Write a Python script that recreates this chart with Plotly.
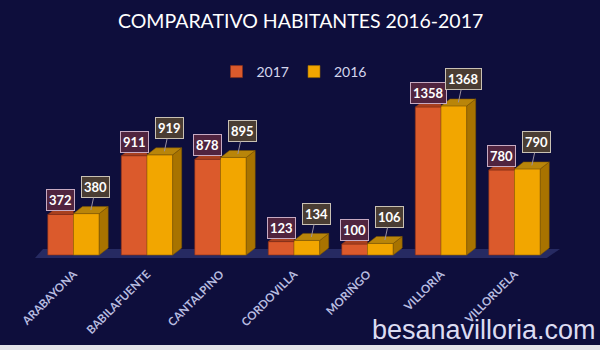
import plotly.graph_objects as go

categories = ["ARABAYONA", "BABILAFUENTE", "CANTALPINO", "CORDOVILLA", "MORIÑGO", "VILLORIA", "VILLORUELA"]
v2017 = [372, 911, 878, 123, 100, 1358, 780]
v2016 = [380, 919, 895, 134, 106, 1368, 790]

BG = "#0e0e3c"
C17 = "#db5a2c"
C16 = "#f2a600"
W = 0.35          # bar width (category units)
DX = 0.122        # 3D depth in x (category units)
DY = 64           # 3D depth in y (value units)

xs = list(range(len(categories)))

fig = go.Figure()
fig.add_trace(go.Bar(x=xs, y=v2017, name="2017", width=W, offset=-W,
                     marker=dict(color=C17, line=dict(color="#8a3018", width=0.6))))
fig.add_trace(go.Bar(x=xs, y=v2016, name="2016", width=W, offset=0,
                     marker=dict(color=C16, line=dict(color="#9a6a00", width=0.6))))

shapes = []
# floor
fl = "M -0.524,-27 L 6.438,-27 L 6.619,55 L -0.415,55 Z"
shapes.append(dict(type="path", path=fl, xref="x", yref="y", layer="below",
                   fillcolor="#262a62", line=dict(width=0)))

def P(pts):
    return "M " + " L ".join(f"{a},{b}" for a, b in pts) + " Z"

for i, (a, b) in enumerate(zip(v2017, v2016)):
    # 2017 top face (clipped at 2016 front face)
    x0, x1 = i - W, i
    shapes.append(dict(type="path", xref="x", yref="y", layer="above",
                       path=P([(x0, a), (x1, a), (x1, a + DY), (x0 + DX, a + DY)]),
                       fillcolor="#a8401f", line=dict(color="#7a2a14", width=0.5)))
    # 2016 side and top
    x0, x1 = i, i + W
    shapes.append(dict(type="path", xref="x", yref="y", layer="above",
                       path=P([(x1, 0), (x1 + DX, DY), (x1 + DX, b + DY), (x1, b)]),
                       fillcolor="#a87300", line=dict(color="#7a5400", width=0.5)))
    shapes.append(dict(type="path", xref="x", yref="y", layer="above",
                       path=P([(x0, b), (x1, b), (x1 + DX, b + DY), (x0 + DX, b + DY)]),
                       fillcolor="#b9850a", line=dict(color="#7a5400", width=0.5)))

# bottom light strip
shapes.append(dict(type="rect", xref="paper", yref="paper", x0=0, x1=1, y0=0, y1=5/350,
                   fillcolor="#e4e4ea", line=dict(width=0), layer="above"))

annotations = []
lab_font = dict(family="Lato", size=13, color="white", weight="bold")
for i, (a, b) in enumerate(zip(v2017, v2016)):
    annotations.append(dict(x=i - W / 2, y=a, xref="x", yref="y", text=str(a),
                            showarrow=False, yanchor="bottom", yshift=3,
                            font=lab_font, bgcolor="#50243f", bordercolor="#c7aac2",
                            borderwidth=1, borderpad=2))
    annotations.append(dict(x=i + W / 2 + DX / 2, y=b + DY / 2, xref="x", yref="y", text=str(b),
                            showarrow=True, arrowhead=0, arrowwidth=1, arrowcolor="#9a90a0",
                            ax=5, ay=-23, font=lab_font, bgcolor="#4a3d33",
                            bordercolor="#c9c1b4", borderwidth=1, borderpad=2))

annotations.append(dict(x=0.5, y=1 - 20 / 350, xref="paper", yref="paper",
                        text="COMPARATIVO HABITANTES 2016-2017", showarrow=False,
                        font=dict(family="Lato", size=19.5, color="white"),
                        xanchor="center", yanchor="middle"))
annotations.append(dict(x=1 - 2 / 600, y=1 - 330 / 350, xref="paper", yref="paper",
                        text="besanavilloria.com", showarrow=False,
                        font=dict(family="Liberation Sans", size=27, color="#dcdcf2"),
                        xanchor="right", yanchor="middle"))

fig.update_layout(
    width=600, height=350,
    margin=dict(l=0, r=0, t=0, b=0),
    paper_bgcolor=BG, plot_bgcolor=BG,
    barmode="overlay",
    shapes=shapes, annotations=annotations,
    showlegend=True,
    legend=dict(orientation="h", x=0.49, xanchor="center", y=1 - 72 / 350, yanchor="middle",
                font=dict(family="Lato", size=14, color="#d4d6ec"), bgcolor="rgba(0,0,0,0)",
                itemwidth=30),
    xaxis=dict(range=[-0.6, 6.65], domain=[29.4 / 600, 562.3 / 600], tickmode="array",
               tickvals=xs, ticktext=categories, tickangle=-45, showgrid=False,
               zeroline=False, showline=False, ticks="", automargin=False,
               ticklabelstandoff=5,
               tickfont=dict(family="Lato", size=11.5, color="#b9bde0", weight="bold")),
    yaxis=dict(range=[-40, 1500], domain=[1 - 259.36 / 350, 1 - 91.5 / 350],
               visible=False, showgrid=False, zeroline=False, automargin=False),
)

fig.write_html("out.html")
